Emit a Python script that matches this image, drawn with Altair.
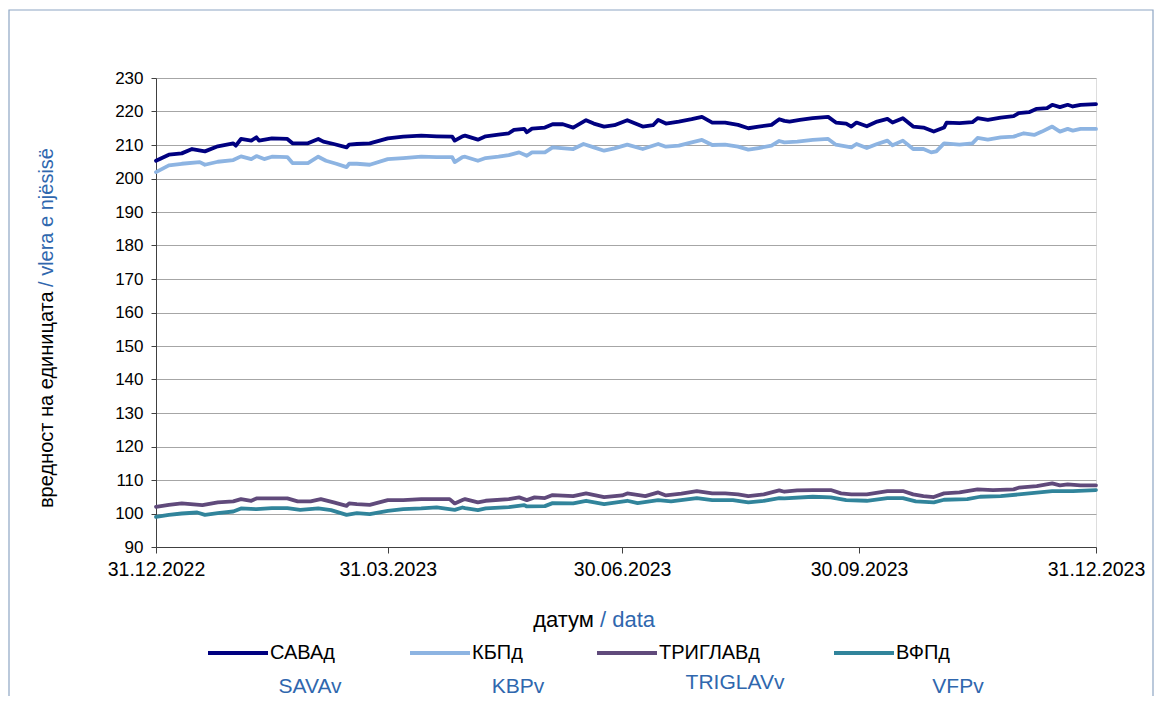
import altair as alt
import pandas as pd

# ---------------- data (days since 31.12.2022, unit value) ----------------
series_names = ["САВАд", "КБПд", "ТРИГЛАВд", "ВФПд"]
series_latin = ["SAVAv", "KBPv", "TRIGLAVv", "VFPv"]
series_colors = ["#000080", "#8DB4E2", "#604A7B", "#31849B"]

sava_days = [0, 5, 10, 14, 19, 24, 30, 31, 33, 37, 39, 40, 45, 51, 53, 59, 63, 65, 69, 74, 75, 78, 83, 90, 96,
             103, 109, 115, 116, 119, 120, 125, 128, 133, 137, 139, 143, 144, 146, 151, 154, 158, 162, 167, 170,
             174, 178, 183, 189, 193, 195, 198, 203, 208, 212, 216, 221, 226, 230, 234, 239, 242, 244, 246, 250,
             255, 261, 264, 268, 270, 272, 276, 280, 284, 286, 290, 294, 298, 302, 306, 307, 312, 317, 319, 323,
             328, 333, 335, 339, 342, 346, 348, 351, 354, 356, 359, 365]
sava_vals = [205.3, 207.1, 207.5, 208.8, 208.1, 209.6, 210.5, 209.8, 211.8, 211.3, 212.3, 211.3, 212.0, 211.8,
             210.5, 210.5, 211.8, 211.0, 210.3, 209.3, 210.1, 210.3, 210.5, 212.0, 212.5, 212.8, 212.6, 212.5,
             211.3, 212.6, 212.8, 211.6, 212.6, 213.1, 213.5, 214.5, 214.8, 213.8, 214.9, 215.2, 216.2, 216.2,
             215.2, 217.4, 216.4, 215.5, 215.9, 217.4, 215.5, 215.9, 217.5, 216.4, 217.0, 217.7, 218.4, 216.7,
             216.7, 216.0, 215.0, 215.5, 216.0, 217.7, 217.2, 217.0, 217.5, 218.0, 218.4, 216.7, 216.4, 215.5,
             216.7, 215.6, 217.0, 217.8, 216.7, 218.0, 215.5, 215.2, 214.0, 215.2, 216.7, 216.5, 216.8, 218.0,
             217.5, 218.2, 218.6, 219.5, 219.8, 220.8, 221.0, 222.0, 221.3, 222.0, 221.5, 222.0, 222.2]

kbp_days = [0, 5, 10, 17, 19, 24, 30, 33, 37, 39, 42, 45, 51, 53, 59, 63, 66, 70, 74, 75, 78, 83, 90, 96, 103,
            109, 115, 116, 119, 120, 125, 128, 133, 137, 141, 144, 146, 151, 154, 162, 166, 170, 174, 178, 183,
            189, 195, 198, 203, 208, 212, 216, 221, 226, 230, 234, 239, 242, 244, 249, 255, 261, 264, 270, 272,
            276, 280, 284, 286, 290, 294, 298, 301, 303, 306, 312, 317, 319, 323, 328, 333, 337, 341, 344, 348,
            351, 354, 356, 359, 365]
kbp_vals = [201.9, 203.9, 204.4, 204.9, 204.1, 205.0, 205.5, 206.6, 205.8, 206.7, 205.8, 206.5, 206.4, 204.6,
            204.6, 206.5, 205.3, 204.4, 203.4, 204.4, 204.4, 204.1, 205.8, 206.1, 206.5, 206.4, 206.4, 204.9,
            206.4, 206.5, 205.3, 206.1, 206.5, 207.0, 207.8, 206.8, 207.8, 207.8, 209.3, 208.8, 210.3, 209.3,
            208.3, 209.0, 210.1, 208.8, 210.3, 209.5, 209.8, 210.8, 211.5, 210.0, 210.1, 209.5, 208.6, 209.1,
            209.8, 211.2, 210.8, 211.0, 211.5, 211.8, 210.1, 209.3, 210.3, 209.1, 210.3, 211.3, 209.9, 211.3,
            208.8, 208.8, 207.8, 208.1, 210.5, 210.1, 210.5, 212.1, 211.6, 212.3, 212.5, 213.5, 213.0, 214.0,
            215.5, 214.0, 214.8, 214.3, 214.8, 214.8]

triglav_days = [0, 5, 10, 18, 24, 30, 33, 37, 39, 45, 51, 55, 60, 64, 69, 74, 75, 78, 83, 90, 96, 103, 109, 114,
                116, 119, 120, 125, 128, 137, 141, 144, 147, 151, 154, 162, 167, 174, 181, 183, 190, 195, 198,
                204, 210, 216, 221, 226, 230, 236, 242, 244, 249, 255, 262, 266, 270, 276, 284, 290, 294, 298,
                302, 306, 312, 319, 325, 333, 335, 342, 348, 351, 354, 359, 365]
triglav_vals = [102.0, 102.6, 103.0, 102.5, 103.3, 103.6, 104.3, 103.8, 104.5, 104.5, 104.5, 103.6, 103.6,
                104.3, 103.3, 102.3, 103.0, 102.8, 102.6, 104.0, 104.0, 104.3, 104.3, 104.3, 103.0, 104.0,
                104.3, 103.3, 103.8, 104.3, 104.8, 104.0, 104.8, 104.6, 105.5, 105.2, 106.0, 104.9, 105.4,
                106.0, 105.2, 106.3, 105.4, 105.9, 106.7, 106.0, 106.0, 105.7, 105.2, 105.7, 106.9, 106.5,
                106.9, 107.0, 107.0, 106.0, 105.7, 105.7, 106.7, 106.7, 105.7, 105.2, 104.9, 106.0, 106.3,
                107.2, 107.0, 107.2, 107.7, 108.2, 109.0, 108.4, 108.7, 108.4, 108.4]

vfp_days = [0, 5, 10, 16, 19, 24, 30, 33, 39, 45, 51, 56, 63, 68, 74, 78, 83, 90, 96, 103, 109, 116, 119, 120,
            125, 128, 137, 143, 144, 151, 154, 162, 167, 174, 183, 187, 195, 200, 210, 216, 224, 230, 236, 242,
            244, 255, 262, 268, 276, 284, 290, 295, 302, 306, 315, 320, 328, 335, 342, 348, 356, 365]
vfp_vals = [99.0, 99.6, 100.0, 100.3, 99.6, 100.1, 100.6, 101.5, 101.3, 101.6, 101.6, 101.1, 101.5, 101.0,
            99.6, 100.1, 99.8, 100.8, 101.3, 101.5, 101.8, 101.1, 101.8, 101.6, 101.0, 101.5, 101.9, 102.5,
            102.1, 102.2, 103.1, 103.0, 103.8, 102.8, 103.8, 103.1, 104.0, 103.6, 104.6, 104.0, 104.0, 103.3,
            103.8, 104.6, 104.5, 105.0, 104.8, 104.0, 103.8, 104.6, 104.6, 103.6, 103.3, 104.1, 104.3, 105.0,
            105.2, 105.7, 106.2, 106.7, 106.7, 107.0]

start_date = "2022-12-31"
y_ticks = list(range(90, 231, 10))

# ---------------- build table ----------------
frames = []
for name, days, vals in zip(series_names,
                            [sava_days, kbp_days, triglav_days, vfp_days],
                            [sava_vals, kbp_vals, triglav_vals, vfp_vals]):
    d = pd.DataFrame({"days": days, "value": vals})
    d["date"] = (pd.Timestamp(start_date) + pd.to_timedelta(d["days"], unit="D")).dt.strftime("%Y-%m-%dT00:00:00")
    d["fund"] = name
    frames.append(d)
df = pd.concat(frames, ignore_index=True)
one = pd.DataFrame({"k": [0]})

FONT = "Liberation Sans"
BLUE = "#2F67AE"
W, H = 940, 469

x_ticks = [alt.DateTime(year=2022, month=12, date=31), alt.DateTime(year=2023, month=3, date=31),
           alt.DateTime(year=2023, month=6, date=30), alt.DateTime(year=2023, month=9, date=30),
           alt.DateTime(year=2023, month=12, date=31)]

lines = alt.Chart(df).mark_line(strokeWidth=3.8, strokeCap="round", strokeJoin="round").encode(
    x=alt.X("date:T",
            scale=alt.Scale(domain=[alt.DateTime(year=2022, month=12, date=31),
                                    alt.DateTime(year=2023, month=12, date=31)], nice=False),
            axis=alt.Axis(values=x_ticks, format="%d.%m.%Y", title=None, grid=False,
                          labelFontSize=19.5, labelPadding=7, tickSize=6, labelFont=FONT,
                          domainColor="#404040", tickColor="#404040", labelColor="#000000",
                          labelFlush=False, labelOverlap=False)),
    y=alt.Y("value:Q", scale=alt.Scale(domain=[90, 230], nice=False, zero=False),
            axis=alt.Axis(values=y_ticks, title=None, grid=True, gridColor="#A6A6A6",
                          labelFontSize=17, labelPadding=8, tickSize=5, labelFont=FONT,
                          domainColor="#404040", tickColor="#404040", labelColor="#000000")),
    color=alt.Color("fund:N",
                    scale=alt.Scale(domain=series_names, range=series_colors),
                    legend=alt.Legend(title=None, orient="none", direction="horizontal", columns=4,
                                      legendX=50, legendY=543, symbolType="stroke", symbolSize=3600,
                                      symbolStrokeWidth=4, labelFontSize=20, labelFont=FONT,
                                      labelOffset=0, columnPadding=66, padding=0, labelColor="#000000")),
    order=alt.Order("days:Q"),
)

frame = alt.Chart(one).mark_rect(filled=False, stroke="#8EA6C4", strokeWidth=1.2).encode(
    x=alt.value(-147), x2=alt.value(997), y=alt.value(-68), y2=alt.value(700)
)

yfont = dict(font=FONT, fontSize=20)
xfont = dict(font=FONT, fontSize=22)
y_title_black = alt.Chart(one).mark_text(angle=270, align="left", baseline="middle", color="#000000", **yfont).encode(
    x=alt.value(-109), y=alt.value(430), text=alt.value("вредност на единицата"))
y_title_blue = alt.Chart(one).mark_text(angle=270, align="right", baseline="middle", color=BLUE, **yfont).encode(
    x=alt.value(-109), y=alt.value(70), text=alt.value("/ vlera e njësisë"))
x_title_black = alt.Chart(one).mark_text(align="right", baseline="middle", color="#000000", **xfont).encode(
    x=alt.value(438), y=alt.value(542), text=alt.value("датум"))
x_title_blue = alt.Chart(one).mark_text(align="left", baseline="middle", color=BLUE, **xfont).encode(
    x=alt.value(444), y=alt.value(542), text=alt.value("/ data"))

latin_x = [154, 362, 579, 802]
latin_y = [609, 609, 605, 609]
latin_marks = [
    alt.Chart(one).mark_text(align="center", baseline="middle", color=BLUE, font=FONT, fontSize=21).encode(
        x=alt.value(lx), y=alt.value(ly), text=alt.value(lab))
    for lab, lx, ly in zip(series_latin, latin_x, latin_y)
]

chart = alt.layer(frame, lines, y_title_black, y_title_blue, x_title_black, x_title_blue, *latin_marks).properties(
    width=W, height=H,
    autosize=alt.AutoSizeParams(type="none"),
    padding={"left": 148, "top": 70, "right": 58, "bottom": 149},
).configure_view(stroke="#A6A6A6").configure(background="#FFFFFF")

chart.save("out.html", embed_options={"renderer": "svg", "actions": False})
